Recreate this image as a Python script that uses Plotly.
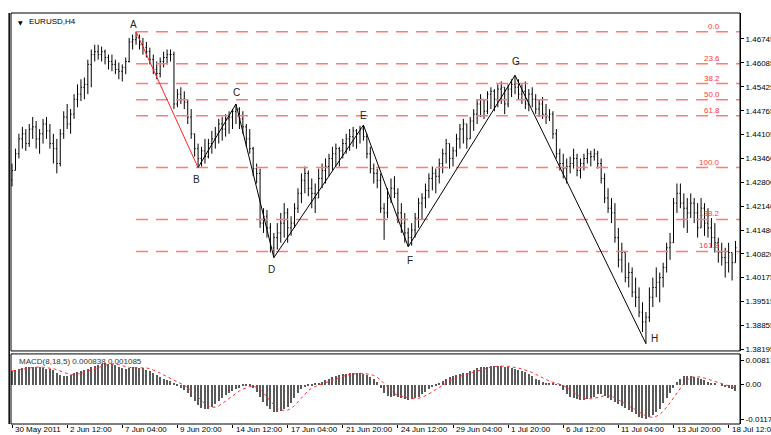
import plotly.graph_objects as go
import pandas as pd

# ---------------- data (EURUSD, H4) ----------------
opens = [1.4285, 1.4312, 1.4358, 1.4399, 1.4413, 1.4386, 1.4426, 1.4432, 1.4399, 1.4413,
         1.4440, 1.4421, 1.4386, 1.4372, 1.4331, 1.4413, 1.4459, 1.4440, 1.4467, 1.4508,
         1.4522, 1.4541, 1.4549, 1.4604, 1.4631, 1.4639, 1.4631, 1.4639, 1.4623, 1.4612,
         1.4604, 1.4590, 1.4585, 1.4596, 1.4612, 1.4666, 1.4672, 1.4677, 1.4658, 1.4650,
         1.4639, 1.4617, 1.4590, 1.4579, 1.4612, 1.4623, 1.4631, 1.4631, 1.4495, 1.4522,
         1.4508, 1.4500, 1.4459, 1.4413, 1.4372, 1.4345, 1.4366, 1.4350, 1.4386, 1.4399,
         1.4413, 1.4440, 1.4426, 1.4454, 1.4459, 1.4475, 1.4481, 1.4454, 1.4432, 1.4399,
         1.4372, 1.4317, 1.4304, 1.4167, 1.4186, 1.4154, 1.4099, 1.4127, 1.4140, 1.4167,
         1.4195, 1.4154, 1.4167, 1.4208, 1.4249, 1.4285, 1.4304, 1.4263, 1.4249, 1.4236,
         1.4290, 1.4312, 1.4323, 1.4345, 1.4358, 1.4372, 1.4366, 1.4386, 1.4399, 1.4405,
         1.4421, 1.4413, 1.4426, 1.4405, 1.4358, 1.4317, 1.4304, 1.4285, 1.4208, 1.4195,
         1.4236, 1.4263, 1.4249, 1.4195, 1.4167, 1.4140, 1.4127, 1.4148, 1.4181, 1.4222,
         1.4236, 1.4257, 1.4290, 1.4304, 1.4296, 1.4331, 1.4358, 1.4386, 1.4345, 1.4366,
         1.4399, 1.4426, 1.4440, 1.4399, 1.4448, 1.4467, 1.4495, 1.4508, 1.4475, 1.4522,
         1.4530, 1.4508, 1.4536, 1.4541, 1.4495, 1.4536, 1.4549, 1.4541, 1.4522, 1.4530,
         1.4495, 1.4522, 1.4508, 1.4481, 1.4495, 1.4467, 1.4459, 1.4467, 1.4413, 1.4358,
         1.4331, 1.4317, 1.4323, 1.4331, 1.4345, 1.4312, 1.4331, 1.4345, 1.4358, 1.4350,
         1.4358, 1.4331, 1.4290, 1.4236, 1.4208, 1.4195, 1.4127, 1.4066, 1.4086, 1.4017,
         1.4031, 1.3977, 1.3963, 1.3922, 1.3895, 1.3908, 1.3963, 1.3990, 1.4004, 1.4017,
         1.4045, 1.4099, 1.4113, 1.4222, 1.4249, 1.4222, 1.4208, 1.4195, 1.4222, 1.4195,
         1.4154, 1.4208, 1.4167, 1.4154, 1.4127, 1.4113, 1.4086, 1.4072, 1.4058, 1.4086,
         1.4058]
highs = [1.4331, 1.4372, 1.4413, 1.4432, 1.4426, 1.4440, 1.4459, 1.4448, 1.4426, 1.4454,
         1.4459, 1.4440, 1.4413, 1.4399, 1.4426, 1.4475, 1.4495, 1.4481, 1.4522, 1.4549,
         1.4563, 1.4568, 1.4617, 1.4645, 1.4658, 1.4658, 1.4653, 1.4645, 1.4631, 1.4631,
         1.4617, 1.4609, 1.4604, 1.4623, 1.4677, 1.4686, 1.4694, 1.4686, 1.4677, 1.4666,
         1.4650, 1.4631, 1.4612, 1.4623, 1.4639, 1.4645, 1.4645, 1.4639, 1.4536, 1.4541,
         1.4530, 1.4508, 1.4481, 1.4413, 1.4386, 1.4377, 1.4399, 1.4399, 1.4421, 1.4432,
         1.4454, 1.4459, 1.4467, 1.4475, 1.4481, 1.4495, 1.4486, 1.4475, 1.4440, 1.4426,
         1.4377, 1.4331, 1.4317, 1.4208, 1.4203, 1.4167, 1.4140, 1.4167, 1.4195, 1.4222,
         1.4208, 1.4186, 1.4222, 1.4263, 1.4304, 1.4323, 1.4312, 1.4290, 1.4276, 1.4317,
         1.4331, 1.4345, 1.4358, 1.4377, 1.4386, 1.4377, 1.4399, 1.4413, 1.4426, 1.4432,
         1.4426, 1.4435, 1.4437, 1.4413, 1.4377, 1.4331, 1.4317, 1.4304, 1.4222, 1.4263,
         1.4290, 1.4296, 1.4263, 1.4222, 1.4195, 1.4154, 1.4167, 1.4195, 1.4236, 1.4249,
         1.4276, 1.4304, 1.4323, 1.4317, 1.4345, 1.4372, 1.4399, 1.4386, 1.4377, 1.4413,
         1.4440, 1.4454, 1.4440, 1.4459, 1.4481, 1.4508, 1.4522, 1.4508, 1.4530, 1.4541,
         1.4536, 1.4549, 1.4557, 1.4541, 1.4549, 1.4563, 1.4574, 1.4563, 1.4549, 1.4557,
         1.4536, 1.4541, 1.4522, 1.4508, 1.4514, 1.4495, 1.4481, 1.4475, 1.4426, 1.4372,
         1.4358, 1.4345, 1.4350, 1.4372, 1.4358, 1.4345, 1.4358, 1.4372, 1.4366, 1.4372,
         1.4366, 1.4345, 1.4304, 1.4263, 1.4236, 1.4222, 1.4154, 1.4113, 1.4086, 1.4058,
         1.4045, 1.4017, 1.3990, 1.3949, 1.3922, 1.3990, 1.4017, 1.4045, 1.4031, 1.4058,
         1.4113, 1.4140, 1.4236, 1.4276, 1.4276, 1.4249, 1.4236, 1.4249, 1.4236, 1.4222,
         1.4236, 1.4222, 1.4208, 1.4181, 1.4167, 1.4127, 1.4113, 1.4099, 1.4113, 1.4086,
         1.4118]
lows = [1.4268, 1.4312, 1.4345, 1.4372, 1.4366, 1.4377, 1.4399, 1.4372, 1.4358, 1.4386,
        1.4399, 1.4372, 1.4331, 1.4304, 1.4323, 1.4399, 1.4426, 1.4413, 1.4454, 1.4486,
        1.4503, 1.4508, 1.4522, 1.4541, 1.4612, 1.4617, 1.4612, 1.4604, 1.4590, 1.4585,
        1.4577, 1.4563, 1.4557, 1.4577, 1.4609, 1.4645, 1.4658, 1.4645, 1.4631, 1.4623,
        1.4604, 1.4577, 1.4563, 1.4568, 1.4596, 1.4604, 1.4612, 1.4481, 1.4486, 1.4495,
        1.4481, 1.4440, 1.4399, 1.4350, 1.4320, 1.4323, 1.4331, 1.4345, 1.4358, 1.4372,
        1.4386, 1.4394, 1.4405, 1.4413, 1.4426, 1.4440, 1.4426, 1.4413, 1.4377, 1.4358,
        1.4296, 1.4276, 1.4154, 1.4140, 1.4127, 1.4086, 1.4072, 1.4094, 1.4113, 1.4127,
        1.4113, 1.4132, 1.4154, 1.4195, 1.4222, 1.4249, 1.4241, 1.4208, 1.4195, 1.4236,
        1.4263, 1.4276, 1.4296, 1.4312, 1.4323, 1.4323, 1.4345, 1.4358, 1.4366, 1.4377,
        1.4372, 1.4386, 1.4394, 1.4345, 1.4304, 1.4276, 1.4263, 1.4195, 1.4121, 1.4181,
        1.4222, 1.4236, 1.4167, 1.4140, 1.4113, 1.4102, 1.4105, 1.4127, 1.4154, 1.4176,
        1.4208, 1.4236, 1.4257, 1.4249, 1.4276, 1.4304, 1.4331, 1.4317, 1.4323, 1.4350,
        1.4372, 1.4386, 1.4372, 1.4399, 1.4421, 1.4440, 1.4459, 1.4454, 1.4467, 1.4481,
        1.4475, 1.4486, 1.4495, 1.4467, 1.4486, 1.4514, 1.4522, 1.4508, 1.4495, 1.4481,
        1.4475, 1.4486, 1.4467, 1.4459, 1.4454, 1.4440, 1.4448, 1.4399, 1.4345, 1.4312,
        1.4290, 1.4276, 1.4304, 1.4317, 1.4296, 1.4290, 1.4312, 1.4331, 1.4323, 1.4339,
        1.4317, 1.4276, 1.4222, 1.4195, 1.4167, 1.4113, 1.4045, 1.4031, 1.4004, 1.3990,
        1.3963, 1.3936, 1.3908, 1.3867, 1.3835, 1.3895, 1.3936, 1.3963, 1.3949, 1.3990,
        1.4031, 1.4066, 1.4113, 1.4195, 1.4208, 1.4154, 1.4140, 1.4181, 1.4167, 1.4127,
        1.4154, 1.4132, 1.4127, 1.4099, 1.4086, 1.4058, 1.4050, 1.4017, 1.4031, 1.4009,
        1.4058]
closes = [1.4312, 1.4358, 1.4399, 1.4413, 1.4386, 1.4426, 1.4432, 1.4399, 1.4413, 1.4440,
          1.4421, 1.4386, 1.4372, 1.4331, 1.4413, 1.4459, 1.4440, 1.4467, 1.4508, 1.4522,
          1.4541, 1.4549, 1.4604, 1.4631, 1.4639, 1.4631, 1.4639, 1.4623, 1.4612, 1.4604,
          1.4590, 1.4585, 1.4596, 1.4612, 1.4666, 1.4672, 1.4677, 1.4658, 1.4650, 1.4639,
          1.4617, 1.4590, 1.4579, 1.4612, 1.4623, 1.4631, 1.4631, 1.4495, 1.4522, 1.4508,
          1.4500, 1.4459, 1.4413, 1.4372, 1.4345, 1.4366, 1.4350, 1.4386, 1.4399, 1.4413,
          1.4440, 1.4426, 1.4454, 1.4459, 1.4475, 1.4481, 1.4454, 1.4432, 1.4399, 1.4372,
          1.4317, 1.4304, 1.4167, 1.4186, 1.4154, 1.4099, 1.4127, 1.4140, 1.4167, 1.4195,
          1.4154, 1.4167, 1.4208, 1.4249, 1.4285, 1.4304, 1.4263, 1.4249, 1.4236, 1.4290,
          1.4312, 1.4323, 1.4345, 1.4358, 1.4372, 1.4366, 1.4386, 1.4399, 1.4405, 1.4421,
          1.4413, 1.4426, 1.4405, 1.4358, 1.4317, 1.4304, 1.4285, 1.4208, 1.4195, 1.4236,
          1.4263, 1.4249, 1.4195, 1.4167, 1.4140, 1.4127, 1.4148, 1.4181, 1.4222, 1.4236,
          1.4257, 1.4290, 1.4304, 1.4296, 1.4331, 1.4358, 1.4386, 1.4345, 1.4366, 1.4399,
          1.4426, 1.4440, 1.4399, 1.4448, 1.4467, 1.4495, 1.4508, 1.4475, 1.4522, 1.4530,
          1.4508, 1.4536, 1.4541, 1.4495, 1.4536, 1.4549, 1.4541, 1.4522, 1.4530, 1.4495,
          1.4522, 1.4508, 1.4481, 1.4495, 1.4467, 1.4459, 1.4467, 1.4413, 1.4358, 1.4331,
          1.4317, 1.4323, 1.4331, 1.4345, 1.4312, 1.4331, 1.4345, 1.4358, 1.4350, 1.4358,
          1.4331, 1.4290, 1.4236, 1.4208, 1.4195, 1.4127, 1.4066, 1.4086, 1.4017, 1.4031,
          1.3977, 1.3963, 1.3922, 1.3895, 1.3908, 1.3963, 1.3990, 1.4004, 1.4017, 1.4045,
          1.4099, 1.4113, 1.4222, 1.4249, 1.4222, 1.4208, 1.4195, 1.4222, 1.4195, 1.4154,
          1.4208, 1.4167, 1.4154, 1.4127, 1.4113, 1.4086, 1.4072, 1.4058, 1.4086, 1.4058,
          1.4099]

# MACD(8,18,5) main line values
macd_main = [0.0045, 0.0048, 0.0052, 0.0056, 0.0058, 0.0059, 0.0059, 0.0058, 0.0057, 0.0055,
             0.0053, 0.0051, 0.0047, 0.0040, 0.0032, 0.0028, 0.0029, 0.0033, 0.0038, 0.0042,
             0.0045, 0.0047, 0.0052, 0.0058, 0.0063, 0.0066, 0.0069, 0.0071, 0.0070, 0.0068,
             0.0064, 0.0058, 0.0054, 0.0053, 0.0056, 0.0058, 0.0058, 0.0056, 0.0054, 0.0050,
             0.0045, 0.0038, 0.0031, 0.0025, 0.0020, 0.0016, 0.0012, 0.0004, -0.0003, -0.0010,
             -0.0018, -0.0028, -0.0040, -0.0055, -0.0068, -0.0078, -0.0082, -0.0080, -0.0074, -0.0065,
             -0.0055, -0.0045, -0.0036, -0.0028, -0.0020, -0.0014, -0.0010, -0.0005, -0.0002, -0.0004,
             -0.0010, -0.0025, -0.0042, -0.0058, -0.0072, -0.0083, -0.0090, -0.0091, -0.0088, -0.0082,
             -0.0076, -0.0062, -0.0045, -0.0028, -0.0014, -0.0008, -0.0006, -0.0003, 0.0002, 0.0006,
             0.0010, 0.0015, 0.0020, 0.0024, 0.0028, 0.0031, 0.0034, 0.0036, 0.0037, 0.0038,
             0.0038, 0.0037, 0.0035, 0.0032, 0.0026, 0.0018, 0.0008, -0.0012, -0.0028, -0.0038,
             -0.0040, -0.0038, -0.0040, -0.0044, -0.0048, -0.0050, -0.0048, -0.0045, -0.0040, -0.0033,
             -0.0025, -0.0015, -0.0008, -0.0002, 0.0005, 0.0012, 0.0020, 0.0024, 0.0028, 0.0032,
             0.0035, 0.0038, 0.0040, 0.0045, 0.0050, 0.0054, 0.0057, 0.0058, 0.0060, 0.0062,
             0.0063, 0.0062, 0.0061, 0.0059, 0.0058, 0.0056, 0.0052, 0.0048, 0.0045, 0.0042,
             0.0035, 0.0028, 0.0020, 0.0015, 0.0010, 0.0006, 0.0004, 0.0003, 0.0001, -0.0005,
             -0.0018, -0.0030, -0.0040, -0.0045, -0.0048, -0.0050, -0.0050, -0.0048, -0.0045, -0.0040,
             -0.0033, -0.0030, -0.0038, -0.0045, -0.0050, -0.0058, -0.0065, -0.0072, -0.0078, -0.0085,
             -0.0092, -0.0100, -0.0107, -0.0112, -0.0115, -0.0110, -0.0103, -0.0092, -0.0080, -0.0062,
             -0.0045, -0.0028, -0.0010, 0.0008, 0.0020, 0.0027, 0.0030, 0.0028, 0.0025, 0.0022,
             0.0018, 0.0014, 0.0010, 0.0006, 0.0003, 0.0000, -0.0003, -0.0008, -0.0012, -0.0016,
             -0.0020]
signal_period = 5

# wave points (bar number, which extreme)
wave_labels = ["A", "B", "C", "D", "E", "F", "G", "H"]
wave_bars = [36, 54, 65, 76, 102, 115, 146, 184]
wave_kind = ["high", "low", "high", "low", "high", "low", "high", "low"]

fib_levels = [0.0, 23.6, 38.2, 50.0, 61.8, 100.0, 138.2, 161.8]

price_ticks = [1.46745, 1.46085, 1.45425, 1.44765, 1.44105, 1.43460, 1.42800,
               1.42140, 1.41480, 1.40820, 1.40175, 1.39515, 1.38855, 1.38195]
macd_ticks = [0.00817, 0.0, -0.01172]
macd_tick_text = ["0.00817", "0.00", "-0.01172"]

time_label_bars = [0, 16, 32, 48, 64, 80, 96, 112, 128, 144, 160, 176, 192, 208]
time_labels = ["30 May 2011", "2 Jun 12:00", "7 Jun 04:00", "9 Jun 20:00", "14 Jun 12:00",
               "17 Jun 04:00", "21 Jun 20:00", "24 Jun 12:00", "29 Jun 04:00", "1 Jul 20:00",
               "6 Jul 12:00", "11 Jul 04:00", "13 Jul 20:00", "18 Jul 12:00"]

# ---------------- figure ----------------
FONT = "Liberation Sans, Arial, sans-serif"
bars = list(range(len(closes)))
x_min, x_max = -0.3, 211.3
main_dom = [0.1777, 1.0]
macd_dom = [0.0, 0.1705]

fig = go.Figure()

fig.add_trace(go.Ohlc(
    x=bars, open=opens, high=highs, low=lows, close=closes,
    increasing=dict(line=dict(color="black", width=1)),
    decreasing=dict(line=dict(color="black", width=1)),
    tickwidth=0.3, xaxis="x", yaxis="y", hoverinfo="skip", showlegend=False))

wave_prices = [highs[b] if k == "high" else lows[b] for b, k in zip(wave_bars, wave_kind)]
pA, pB = wave_prices[0], wave_prices[1]

# Fibonacci levels
for lv in fib_levels:
    price = pA - lv / 100.0 * (pA - pB)
    fig.add_trace(go.Scatter(
        x=[wave_bars[0], x_max], y=[price, price], mode="lines",
        line=dict(color="#ff7a7a", width=1.5, dash="12px,8px"),
        xaxis="x", yaxis="y", hoverinfo="skip", showlegend=False))
    fig.add_annotation(
        xref="paper", yref="y", x=(722 - 11) / 729, y=price,
        text=f"{lv:.1f}", showarrow=False, xanchor="right", yanchor="bottom",
        yshift=-1, font=dict(family=FONT, size=8, color="#ff3b3b"))

# zigzag
fig.add_trace(go.Scatter(
    x=wave_bars[:2], y=wave_prices[:2], mode="lines",
    line=dict(color="#ff2020", width=1), xaxis="x", yaxis="y",
    hoverinfo="skip", showlegend=False))
fig.add_trace(go.Scatter(
    x=wave_bars[1:], y=wave_prices[1:], mode="lines",
    line=dict(color="black", width=1), xaxis="x", yaxis="y",
    hoverinfo="skip", showlegend=False))

label_shift = {"A": (-3, 7), "B": (-2, -12), "C": (1, 11), "D": (-2, -12),
               "E": (0, 10), "F": (2, -14), "G": (1, 14), "H": (9, 5)}
for lab, b, p in zip(wave_labels, wave_bars, wave_prices):
    dx, dy = label_shift[lab]
    fig.add_annotation(xref="x", yref="y", x=b, y=p, text=lab, showarrow=False,
                       xshift=dx, yshift=dy, xanchor="center", yanchor="middle",
                       font=dict(family=FONT, size=10, color="#222222"))

# MACD panel
signal = pd.Series(macd_main).rolling(signal_period, min_periods=1).mean().tolist()
fig.add_trace(go.Bar(
    x=bars, y=macd_main, width=0.32, marker=dict(color="#5a5a5a", line=dict(width=0)),
    xaxis="x", yaxis="y2", hoverinfo="skip", showlegend=False))
fig.add_trace(go.Scatter(
    x=bars, y=signal, mode="lines", line=dict(color="#ff3030", width=1, dash="dot"),
    xaxis="x", yaxis="y2", hoverinfo="skip", showlegend=False))

# texts
fig.add_annotation(xref="paper", yref="paper", x=(16 - 11) / 729, y=1, yshift=-4,
                   text="▼", showarrow=False, xanchor="left", yanchor="top",
                   font=dict(family="DejaVu Sans", size=6, color="black"))
fig.add_annotation(xref="paper", yref="paper", x=(27 - 11) / 729, y=1, yshift=-2,
                   text="EURUSD,H4", showarrow=False, xanchor="left", yanchor="top",
                   font=dict(family=FONT, size=8, color="black"))
fig.add_annotation(xref="paper", yref="paper", x=(17 - 11) / 729, y=macd_dom[1], yshift=-1,
                   text="MACD(8,18,5) 0.000838 0.001085", showarrow=False,
                   xanchor="left", yanchor="top",
                   font=dict(family=FONT, size=8, color="#333333"))
for b, t in zip(time_label_bars, time_labels):
    fig.add_annotation(xref="x", yref="paper", x=b, y=0, yshift=1, xshift=1,
                       text=t, showarrow=False, xanchor="left", yanchor="top",
                       font=dict(family=FONT, size=8, color="black"))

# panel frames
for d in (main_dom, macd_dom):
    fig.add_shape(type="rect", xref="paper", yref="paper", x0=0, x1=1, y0=d[0], y1=d[1],
                  line=dict(color="black", width=1), fillcolor="rgba(0,0,0,0)", layer="above")
fig.add_shape(type="line", xref="paper", yref="paper", x0=-0.0025, x1=-0.0025, y0=0, y1=1,
              line=dict(color="black", width=1.5))

fig.update_layout(
    width=771, height=435,
    margin=dict(l=11, r=31, t=13, b=11, autoexpand=False),
    paper_bgcolor="white", plot_bgcolor="white",
    showlegend=False, bargap=0,
    font=dict(family=FONT, size=8, color="black"),
    xaxis=dict(range=[x_min, x_max], anchor="y2", tickvals=time_label_bars,
               ticks="outside", ticklen=3, tickcolor="black", showticklabels=False,
               showgrid=False, zeroline=False, showline=False, automargin=False,
               rangeslider=dict(visible=False)),
    yaxis=dict(domain=main_dom, range=[1.3815, 1.47455], side="right", anchor="x",
               tickvals=price_ticks, ticktext=[f"{v:.5f}" for v in price_ticks],
               ticks="outside", ticklen=3, tickcolor="black", automargin=False,
               tickfont=dict(family=FONT, size=8, color="black"),
               showgrid=False, zeroline=False, showline=True, linecolor="black"),
    yaxis2=dict(domain=macd_dom, range=[-0.0132, 0.0102], side="right", anchor="x",
                tickvals=macd_ticks, ticktext=macd_tick_text,
                ticks="outside", ticklen=3, tickcolor="black", automargin=False,
                tickfont=dict(family=FONT, size=8, color="black"),
                showgrid=False, zeroline=False, showline=True, linecolor="black"),
)

fig.write_html("out.html", config={"displayModeBar": False},
               post_script="document.body.style.margin='0px';document.body.style.overflow='hidden';")
